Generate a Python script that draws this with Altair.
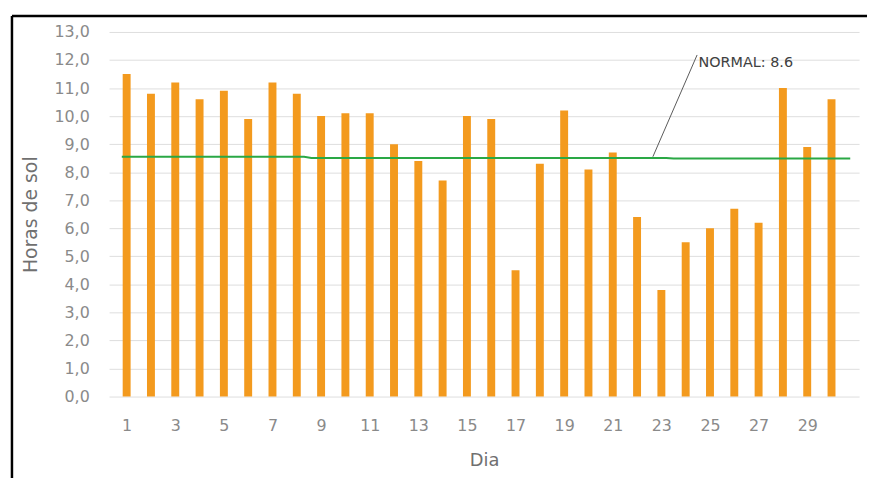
import altair as alt
import pandas as pd

# ---- data ----
dias = list(range(1, 31))
horas = [11.5, 10.8, 11.2, 10.6, 10.9, 9.9, 11.2, 10.8, 10.0, 10.1,
         10.1, 9.0, 8.4, 7.7, 10.0, 9.9, 4.5, 8.3, 10.2, 8.1,
         8.7, 6.4, 3.8, 5.5, 6.0, 6.7, 6.2, 11.0, 8.9, 10.6]

normal_dia = [0.8, 8.3, 8.6, 23.2, 23.5, 30.77]
normal_val = [8.55, 8.55, 8.51, 8.51, 8.49, 8.49]

y_ticks = list(range(0, 14))
x_ticks = list(range(1, 30, 2))
normal_label = "NORMAL: 8.6"

bars_df = pd.DataFrame({"Dia": dias, "Horas": horas})
normal_df = pd.DataFrame({"Dia": normal_dia, "Horas": normal_val})

FONT = "DejaVu Sans"
x_scale = alt.Scale(domain=[0.48, 30.93], nice=False, zero=False)
y_scale = alt.Scale(domain=[0, 13], nice=False, zero=True)

x_axis = alt.Axis(values=x_ticks, title="Dia", grid=False, domain=False, ticks=False,
                  labelOverlap=False,
                  labelFont=FONT, labelFontSize=16, labelColor="#8a8a8a", labelPadding=21,
                  titleFont=FONT, titleFontSize=18, titleFontWeight="normal",
                  titleColor="#707070", titlePadding=19, format="d")
y_axis = alt.Axis(values=y_ticks, title="Horas de sol", grid=True, gridColor="#dedede",
                  domain=False, ticks=False, labelOverlap=False,
                  labelExpr="replace(format(datum.value, '.1f'), '.', ',')",
                  labelFont=FONT, labelFontSize=16, labelColor="#8a8a8a", labelPadding=20,
                  titleFont=FONT, titleFontSize=19, titleFontWeight="normal",
                  titleColor="#707070", titlePadding=14)

bars = alt.Chart(bars_df).mark_bar(size=8, color="#F39A1E").encode(
    x=alt.X("Dia:Q", scale=x_scale, axis=x_axis),
    y=alt.Y("Horas:Q", scale=y_scale, axis=y_axis),
)

normal = alt.Chart(normal_df).mark_line(color="#2aa845", strokeWidth=2).encode(
    x=alt.X("Dia:Q", scale=x_scale, axis=x_axis),
    y=alt.Y("Horas:Q", scale=y_scale, axis=y_axis),
)

leader_df = pd.DataFrame({"Dia": [22.65], "Horas": [8.55], "x2": [24.47], "y2": [12.18]})
leader = alt.Chart(leader_df).mark_rule(color="#595959", strokeWidth=1).encode(
    x=alt.X("Dia:Q", scale=x_scale, axis=x_axis),
    y=alt.Y("Horas:Q", scale=y_scale, axis=y_axis),
    x2="x2:Q", y2="y2:Q",
)

label_df = pd.DataFrame({"Dia": [24.53], "Horas": [11.9], "t": [normal_label]})
label = alt.Chart(label_df).mark_text(align="left", baseline="middle", font=FONT,
                                      fontSize=14.5, color="#404040").encode(
    x=alt.X("Dia:Q", scale=x_scale, axis=x_axis),
    y=alt.Y("Horas:Q", scale=y_scale, axis=y_axis),
    text="t:N",
)

one = pd.DataFrame({"a": [0]})
border_top = alt.Chart(one).mark_rule(color="black", strokeWidth=2.5).encode(
    x=alt.value(-98), x2=alt.value(765), y=alt.value(-16))
border_left = alt.Chart(one).mark_rule(color="black", strokeWidth=2.5).encode(
    x=alt.value(-98), y=alt.value(-16), y2=alt.value(460))

chart = alt.layer(bars, normal, leader, label, border_top, border_left).properties(
    width=757, height=368,
    background="white",
    autosize=alt.AutoSizeParams(type="none"),
    padding={"left": 102, "top": 22, "right": 8, "bottom": 80},
).configure_view(strokeWidth=0, stroke="transparent")

chart.save("out.html", embed_options={"renderer": "svg", "actions": False})
